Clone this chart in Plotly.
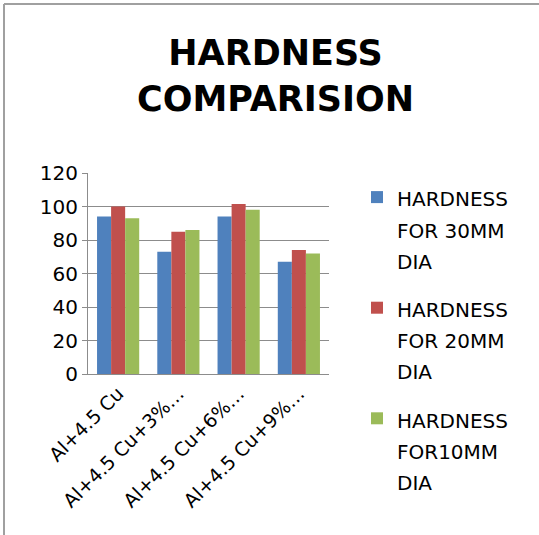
import plotly.graph_objects as go

# Alloy compositions (axis labels as they appear, truncated by the chart)
categories = ["Al+4.5 Cu", "Al+4.5 Cu+3%…", "Al+4.5 Cu+6%…", "Al+4.5 Cu+9%…"]

# Hardness values per specimen diameter
series_names = ["HARDNESS<br>FOR 30MM<br>DIA", "HARDNESS<br>FOR 20MM<br>DIA", "HARDNESS<br>FOR10MM<br>DIA"]
hardness_30mm = [94, 73, 94, 67]
hardness_20mm = [100, 85, 101.5, 74]
hardness_10mm = [93, 86, 98, 72]

colors = ["#4F81BD", "#C0504D", "#9BBB59"]
FONT = "DejaVu Sans"

W, H = 539, 535
L, R, T, B = 88, 329, 173, 374  # plot area edges in pixels


def fx(x):
    return x / W


def fy(y):
    return 1 - y / H


fig = go.Figure()
for i, (name, vals, col) in enumerate(zip(series_names, [hardness_30mm, hardness_20mm, hardness_10mm], colors)):
    fig.add_trace(go.Bar(
        x=categories, y=vals,
        name="<span style='font-size:20px'>" + name + "</span>",
        legendgroup=f"g{i}",
        marker=dict(color=col, line=dict(width=0)),
    ))

fig.update_layout(
    width=W, height=H,
    margin=dict(l=0, r=0, t=0, b=0, autoexpand=False),
    paper_bgcolor="white", plot_bgcolor="white",
    barmode="group", bargap=0.3, bargroupgap=0,
    font=dict(family=FONT, color="black"),
    legend=dict(
        x=fx(357), y=fy(175), xanchor="left", yanchor="top",
        font=dict(size=24, family=FONT, color="black"),
        tracegroupgap=14, itemwidth=30, valign="top",
        bgcolor="rgba(0,0,0,0)",
    ),
    showlegend=True,
    annotations=[
        dict(
            text="<b>HARDNESS<br>COMPARISION</b>",
            xref="paper", yref="paper", x=fx(275), y=fy(76),
            xanchor="center", yanchor="middle", showarrow=False,
            font=dict(size=35, family=FONT, color="black"),
        ),
    ],
    shapes=[
        dict(type="line", xref="paper", yref="paper", x0=fx(4), x1=1, y0=fy(4), y1=fy(4),
             line=dict(color="#A0A0A0", width=2)),
        dict(type="line", xref="paper", yref="paper", x0=fx(4), x1=fx(4), y0=fy(4), y1=0,
             line=dict(color="#A0A0A0", width=2)),
    ],
)

fig.update_yaxes(
    domain=[fy(B), fy(T)], automargin=False,
    range=[0, 120], dtick=20, tickfont=dict(size=20, family=FONT, color="black"),
    showgrid=True, gridcolor="#8C8C8C", gridwidth=1,
    showline=True, linecolor="#8C8C8C", linewidth=1,
    ticks="outside", ticklen=5, tickcolor="#8C8C8C", zeroline=False,
)
fig.update_xaxes(
    domain=[fx(L), fx(R)], automargin=False,
    tickangle=-45, tickfont=dict(size=19, family=FONT, color="black"),
    showline=True, linecolor="#8C8C8C", linewidth=1, ticks="",
)

fig.write_html("out.html")
